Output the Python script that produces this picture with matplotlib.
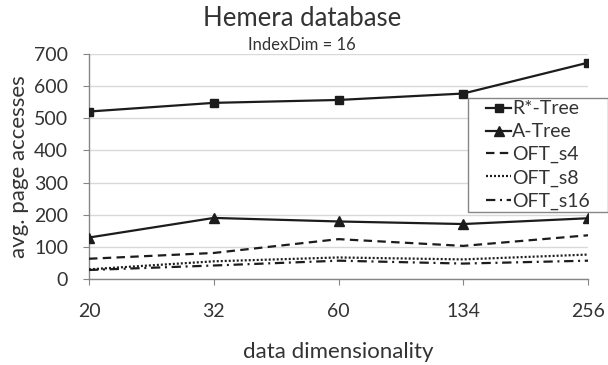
import matplotlib
matplotlib.use("Agg")
import matplotlib.pyplot as plt
from matplotlib.patches import Rectangle

plt.rcParams['font.family'] = ['Lato', 'DejaVu Sans']

# data
dims = ['20', '32', '60', '134', '256']
rstar = [521, 548, 557, 577, 673]
atree = [129, 190, 179, 171, 189]
oft_s4 = [63, 81, 124, 103, 136]
oft_s8 = [30, 55, 67, 61, 76]
oft_s16 = [28, 42, 57, 48, 57]

TXT = '#333333'
AX = '#868686'
LN = '#1c1c1c'

fig = plt.figure(figsize=(6.08, 3.65), dpi=100)
ax = fig.add_axes([89 / 608, 1 - 279 / 365, (588 - 89) / 608, (279 - 54) / 365])

x = list(range(len(dims)))
lw = 1.6
ax.plot(x, rstar, color=LN, lw=lw, marker='s', ms=6, label='R*-Tree', zorder=3)
ax.plot(x, atree, color=LN, lw=lw, marker='^', ms=6.5, label='A-Tree', zorder=3)
ax.plot(x, oft_s4, color=LN, lw=lw, dashes=(3.8, 2.4), label='OFT_s4', zorder=3)
ax.plot(x, oft_s8, color=LN, lw=lw, dashes=(0.9, 0.9), label='OFT_s8', zorder=3)
ax.plot(x, oft_s16, color=LN, lw=lw, dashes=(4.2, 2.1, 0.9, 2.1), label='OFT_s16', zorder=3)

ax.set_xlim(0, 4)
ax.set_ylim(0, 700)
ax.set_xticks(x)
ax.set_xticklabels(dims)
ax.set_yticks(range(0, 701, 100))
ax.grid(axis='y', color='#d9d9d9', lw=1)
ax.set_axisbelow(True)
for s in ['top', 'right']:
    ax.spines[s].set_visible(False)
for s in ['left', 'bottom']:
    ax.spines[s].set_color(AX)
    ax.spines[s].set_linewidth(1)
ax.tick_params(axis='both', direction='out', length=4, color=AX, labelcolor=TXT, labelsize=14)
ax.tick_params(axis='x', pad=13)
ax.tick_params(axis='y', pad=11)

fig.text(0.497, 1 - 26 / 365, 'Hemera database', ha='center', va='baseline', fontsize=18.5, color=TXT)
fig.text(0.497, 1 - 50.5 / 365, 'IndexDim = 16', ha='center', va='baseline', fontsize=12, color=TXT)
fig.text(19 / 608, (1 - 279 / 365 + 1 - 54 / 365) / 2, 'avg. page accesses', rotation=90,
         ha='center', va='center', fontsize=16, color=TXT)
fig.text(338 / 608, 1 - 358 / 365, 'data dimensionality', ha='center', va='baseline',
         fontsize=16, color=TXT)

leg = ax.legend(loc='upper left', bbox_to_anchor=(486 / 608, 1 - 100.5 / 365),
                bbox_transform=fig.transFigure, frameon=False, fontsize=14,
                handlelength=1.3, handletextpad=0.05, borderpad=0, borderaxespad=0,
                labelspacing=0.3, labelcolor=TXT)
leg.set_zorder(6)

# Excel-style legend box: wider side padding than matplotlib's borderpad allows
fig.canvas.draw()
bb = leg.get_window_extent().transformed(fig.transFigure.inverted())
px, py = 18 / 608, 2.5 / 365
ax.add_patch(Rectangle((bb.x0 - px, bb.y0 - py), bb.width + 2 * px, bb.height + 2 * py,
                       transform=fig.transFigure, facecolor='white', edgecolor=AX,
                       lw=1, zorder=5, clip_on=False))

fig.savefig('out.png', dpi=100)
